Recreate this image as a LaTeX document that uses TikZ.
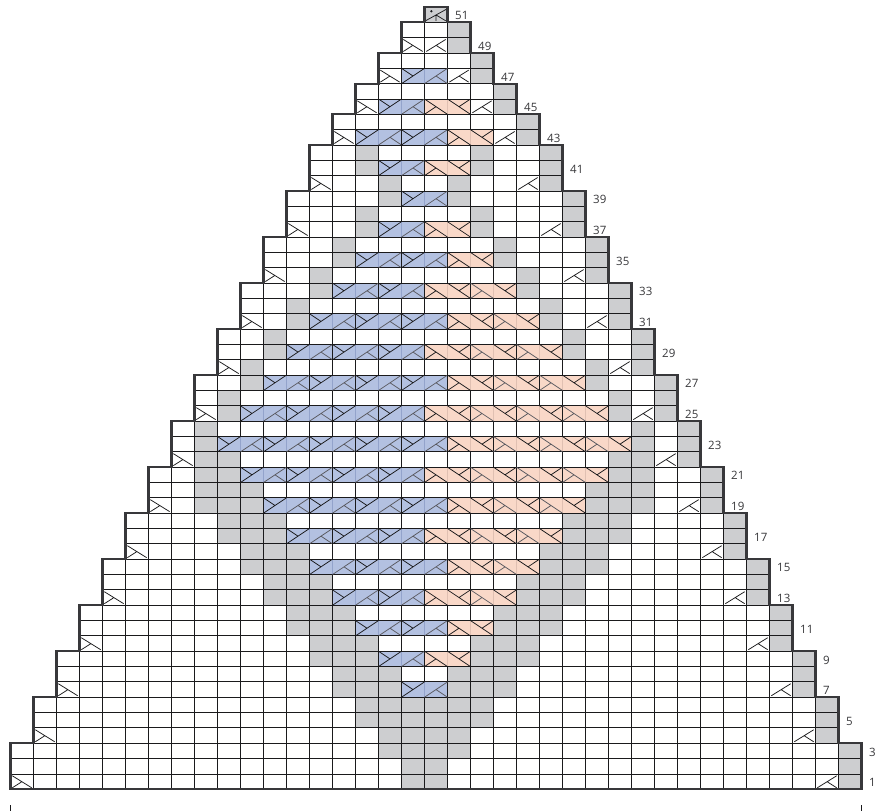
\documentclass[tikz,border=0pt]{standalone}
\usepackage{fontspec}
\setmainfont{Open Sans}
\definecolor{chartInk}{HTML}{1A1A1C}
\definecolor{chartEdge}{HTML}{38383B}
\definecolor{chartGray}{HTML}{CDCED0}
\definecolor{chartBlue}{HTML}{B3C1E1}
\definecolor{chartBlueLine}{HTML}{93A3CB}
\definecolor{chartSalmon}{HTML}{F9D8C8}
\definecolor{chartSalmonLine}{HTML}{E0C0B2}
\definecolor{chartSoft}{HTML}{5A5A60}
\begin{document}
\begin{tikzpicture}[x=23pt,y=15.34pt,line cap=butt,line join=miter]
\useasboundingbox (-10.5pt,-21.7pt) rectangle (873.5pt,789.3pt);
\path[fill=white] (-10.5pt,-21.7pt) rectangle (873.5pt,789.3pt);
\tikzset{gridwire/.style={draw=chartInk,line width=0.9pt},stairwire/.style={draw=chartEdge,line width=2.3pt},tickwire/.style={draw=chartInk,line width=0.9pt},hardmark/.style={draw=chartInk,line width=0.75pt},softmark/.style={draw=chartSoft,line width=0.75pt},rowlabel/.style={anchor=west,inner sep=0pt,xshift=7.5pt,yshift=-1pt,text=chartEdge,font=\fontsize{11.5}{13}\selectfont},graycell/.style={fill=chartGray},bluecell/.style={fill=chartBlue},salmoncell/.style={fill=chartSalmon}}
\foreach \k/\b/\t in {0/0/3,1/3/6,2/6/9,3/9/12,4/12/15,5/15/18,6/18/21,7/21/24,8/24/27,9/27/30,10/30/33,11/33/36,12/36/39,13/39/42,14/42/44,15/44/46,16/46/48,17/48/50,18/50/51}
  \path[graycell] (36-\k,\b) rectangle (37-\k,\t);
\foreach \r/\a/\c in {1/17/17,3/16/17,5/15/17,7/14/16,9/13/15,11/12/14,13/11/13,15/10/12,17/9/11,19/8/10,21/8/9,23/8/8,25/9/9,27/10/10,29/11/11,31/12/12,33/13/13,35/14/14,37/15/15,39/16/16,41/15/15} {
  \path[graycell] (\a,\r-1) rectangle (\c+1,\r+1);
  \path[graycell] (35-\c,\r-1) rectangle (36-\a,\r+1);
}
\foreach \k/\b/\t in {0/0/3,1/3/6,2/6/9,3/9/12,4/12/15,5/15/18,6/18/21,7/21/24,8/24/27,9/27/30,10/30/33,11/33/36,12/36/39,13/39/42,14/42/44,15/44/46,16/46/48,17/48/50,18/50/51}
  \draw[gridwire,step=1] (\k,\b) grid (37-\k,\t);
\foreach \r/\a/\n in {7/17/1,9/16/1,11/15/2,13/14/2,15/13/3,17/12/3,19/11/4,21/10/4,23/9/5,25/10/4,27/11/4,29/12/3,31/13/3,33/14/2,35/15/2,37/16/1,39/17/1,41/16/1,43/15/2,45/16/1,47/17/1}
  \foreach \i in {1,...,\n} {
    \begin{scope}[shift={(\a+2*\i-2,\r-1)}]
    \path[bluecell] (0,0) rectangle (2,1);
    \draw[draw=chartBlueLine,line width=0.7pt] (1,0) -- (1,1);
    \draw[gridwire] (0,0) rectangle (2,1);
    \draw[hardmark] (0,0) -- (1,1) (0,1) -- (0.5,0.5);
    \draw[softmark] (1,0) -- (2,1) (1.5,0.5) -- (2,0);
    \end{scope}
  }
\foreach \r/\a/\n in {9/18/1,11/19/1,13/18/2,15/19/2,17/18/3,19/19/3,21/18/4,23/19/4,25/18/4,27/19/3,29/18/3,31/19/2,33/18/2,35/19/1,37/18/1,41/18/1,43/19/1,45/18/1}
  \foreach \i in {1,...,\n} {
    \begin{scope}[shift={(\a+2*\i-2,\r-1)}]
    \path[salmoncell] (0,0) rectangle (2,1);
    \draw[draw=chartSalmonLine,line width=0.7pt] (1,0) -- (1,1);
    \draw[gridwire] (0,0) rectangle (2,1);
    \ifnum\i=1
      \draw[hardmark] (0,1) -- (1,0) (0,0) -- (0.5,0.5);
    \else
      \draw[softmark] (0,1) -- (1,0) (0,0) -- (0.5,0.5);
    \fi
    \draw[hardmark] (1,1) -- (2,0) (1.5,0.5) -- (2,1);
    \end{scope}
  }
\foreach \k/\b in {0/0,1/3,2/6,3/9,4/12,5/15,6/18,7/21,8/24,9/27,10/30,11/33,12/36,13/39,14/42,15/44,16/46,17/48} {
  \draw[hardmark] (\k+0.08,\b+0.88) -- (\k+0.92,\b+0.1) (\k+0.08,\b+0.1) -- (\k+0.47,\b+0.47);
  \draw[hardmark] (35-\k+0.08,\b+0.1) -- (35-\k+0.92,\b+0.88) (35-\k+0.53,\b+0.47) -- (35-\k+0.92,\b+0.1);
}
\draw[hardmark] (18.05,50.1) -- (18.95,50.85) (18.5,50.48) -- (18.92,50.1) (18.5,50.48) -- (18.5,50.1);
\fill[chartInk] (18.3,50.72) circle (1.3pt);
\draw[stairwire] (0,0) -- (0,3) -- (1,3) -- (1,6) -- (2,6) -- (2,9) -- (3,9) -- (3,12) -- (4,12) -- (4,15) -- (5,15) -- (5,18) -- (6,18) -- (6,21) -- (7,21) -- (7,24) -- (8,24) -- (8,27) -- (9,27) -- (9,30) -- (10,30) -- (10,33) -- (11,33) -- (11,36) -- (12,36) -- (12,39) -- (13,39) -- (13,42) -- (14,42) -- (14,44) -- (15,44) -- (15,46) -- (16,46) -- (16,48) -- (17,48) -- (17,50) -- (18,50) -- (18,51) -- (19,51) -- (19,50) -- (20,50) -- (20,48) -- (21,48) -- (21,46) -- (22,46) -- (22,44) -- (23,44) -- (23,42) -- (24,42) -- (24,39) -- (25,39) -- (25,36) -- (26,36) -- (26,33) -- (27,33) -- (27,30) -- (28,30) -- (28,27) -- (29,27) -- (29,24) -- (30,24) -- (30,21) -- (31,21) -- (31,18) -- (32,18) -- (32,15) -- (33,15) -- (33,12) -- (34,12) -- (34,9) -- (35,9) -- (35,6) -- (36,6) -- (36,3) -- (37,3) -- (37,0) -- cycle;
\coordinate (tickLeftTop) at (0,-16pt); \coordinate (tickLeftEnd) at (0,-21.7pt);
\coordinate (tickRightTop) at (37,-16pt); \coordinate (tickRightEnd) at (37,-21.7pt);
\draw[tickwire] (tickLeftTop) -- (tickLeftEnd);
\draw[tickwire] (tickRightTop) -- (tickRightEnd);
\foreach \r/\e in {1/37,3/37,5/36,7/35,9/35,11/34,13/33,15/33,17/32,19/31,21/31,23/30,25/29,27/29,29/28,31/27,33/27,35/26,37/25,39/25,41/24,43/23,45/22,47/21,49/20,51/19}
  \node[rowlabel] (row\r) at (\e,\r-0.5) {\r};
\end{tikzpicture}
\end{document}
